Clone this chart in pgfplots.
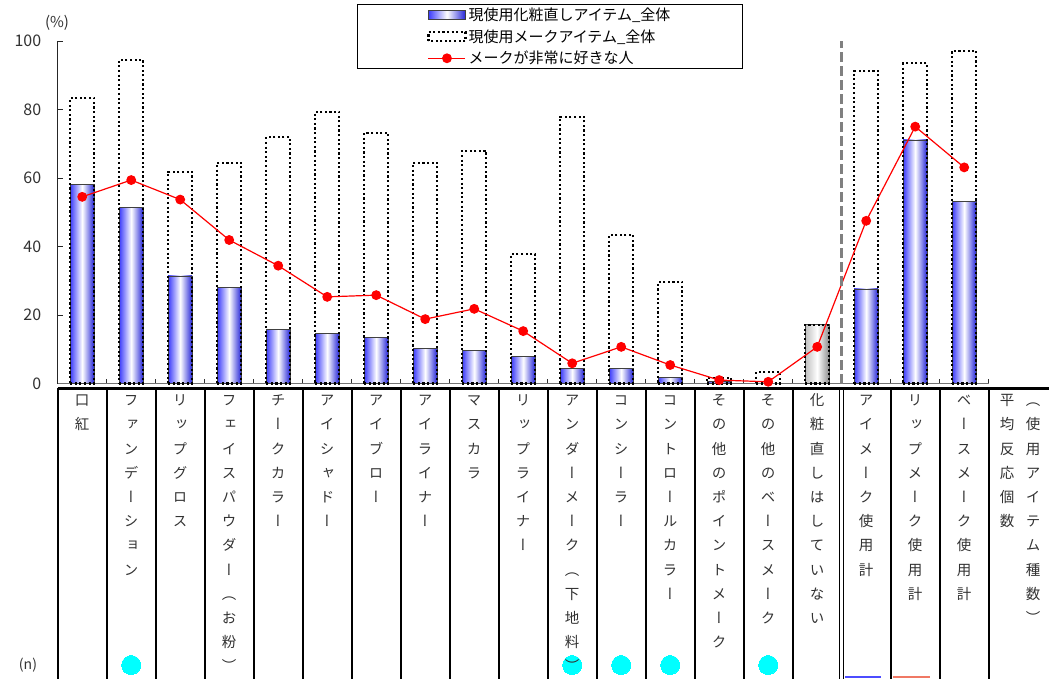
\documentclass[border=0pt]{standalone}
\usepackage{pgfplots}
\pgfplotsset{compat=1.18}
\usepackage{pgfplotstable}
\usepackage{fontspec}
\setmainfont{Noto Sans CJK JP}
\newfontfamily\vfont[RawFeature=+vert]{Noto Sans CJK JP}
\definecolor{barblueL}{RGB}{60,60,250}
\definecolor{barblueR}{RGB}{35,35,215}
\definecolor{dashgray}{RGB}{128,128,128}
\definecolor{txtgray}{RGB}{50,50,50}
\definecolor{salmon}{RGB}{240,120,100}
\definecolor{sigcyan}{RGB}{0,255,255}

\pgfplotsset{
  barlegend/.style={legend image code/.code={\draw[##1] (0pt,-4.5pt) rectangle (37pt,4.5pt);}},
  linelegend/.style={legend image code/.code={\draw[##1, mark repeat=2, mark phase=2] plot coordinates {(0pt,0pt) (18.5pt,0pt) (37pt,0pt)};}},
  bluebar/.style={ybar, bar width=24pt, bar shift=0pt, draw=black!75, line width=0.9pt,
    left color=barblueL, right color=barblueR, middle color=white},
}

% 化粧直しはしていない
\pgfplotstableread{
x y
16 17.1
}\graytab
% 現使用メークアイテム_全体
\pgfplotstableread{
x y
1 83.4
2 94.5
3 61.8
4 64.5
5 71.9
6 79.4
7 73.2
8 64.5
9 68.0
10 37.8
11 77.9
12 43.4
13 29.7
14 1.7
15 3.4
16 17.1
17 91.3
18 93.5
19 97.2
}\dottab
% メークが非常に好きな人
\pgfplotstableread{
x y
1 54.5
2 59.4
3 53.7
4 41.9
5 34.4
6 25.3
7 25.8
8 18.8
9 21.8
10 15.3
11 5.9
12 10.7
13 5.4
14 1.0
15 0.5
16 10.7
17 47.5
18 75.0
19 63.1
}\redtab

\newcommand{\vl}[2]{\node[anchor=north, align=center, inner sep=0pt,
  font=\vfont\fontsize{14.5}{24.2}\selectfont, text=txtgray] at (#1,393) {\rule{0pt}{12.5pt}#2};}

\begin{document}
\begin{tikzpicture}
\path[use as bounding box] (0pt,0pt) rectangle (1049pt,-678pt);
\begin{axis}[
  at={(57.7pt,-383.5pt)}, anchor=south west,
  scale only axis, width=931pt, height=342.5pt,
  xmin=0.5, xmax=19.5, ymin=0, ymax=100,
  axis lines*=left,
  clip=false,
  xtick={0.5,1.5,...,19.5}, xticklabels={},
  ytick={0,20,...,100},
  tick align=inside,
  major tick length=5pt,
  x axis line style={black!55, line width=1.5pt},
  y axis line style={black!85, line width=1pt},
  xtick style={black!80, line width=0.8pt},
  ytick style={black!85, line width=1pt},
  yticklabel style={font=\fontsize{16}{16}\selectfont, text=txtgray, xshift=-13pt},
  /pgf/number format/assume math mode=true,
  legend cell align=left,
  legend style={at={(axis description cs:0.3215,1.108)}, anchor=north west,
    draw=black, line width=0.8pt, font=\fontsize{15}{16}\selectfont,
    inner xsep=70pt, inner ysep=1.5pt, row sep=3.5pt,
    /tikz/every even column/.append style={column sep=7pt}},
]
% 現使用化粧直しアイテム_全体 (one bar per plot so each bar gets its own shading)
\addlegendimage{bluebar, barlegend}
\addlegendentry{現使用化粧直しアイテム\_全体}
\addplot[bluebar, forget plot] coordinates {(1,58.1)};
\addplot[bluebar, forget plot] coordinates {(2,51.3)};
\addplot[bluebar, forget plot] coordinates {(3,31.4)};
\addplot[bluebar, forget plot] coordinates {(4,28.1)};
\addplot[bluebar, forget plot] coordinates {(5,15.8)};
\addplot[bluebar, forget plot] coordinates {(6,14.7)};
\addplot[bluebar, forget plot] coordinates {(7,13.5)};
\addplot[bluebar, forget plot] coordinates {(8,10.2)};
\addplot[bluebar, forget plot] coordinates {(9,9.7)};
\addplot[bluebar, forget plot] coordinates {(10,8.0)};
\addplot[bluebar, forget plot] coordinates {(11,4.4)};
\addplot[bluebar, forget plot] coordinates {(12,4.4)};
\addplot[bluebar, forget plot] coordinates {(13,1.7)};
\addplot[bluebar, forget plot] coordinates {(14,0.5)};
\addplot[bluebar, forget plot] coordinates {(17,27.6)};
\addplot[bluebar, forget plot] coordinates {(18,71.1)};
\addplot[bluebar, forget plot] coordinates {(19,53.1)};
\addplot[ybar, bar width=24pt, bar shift=0pt, draw=black!75, line width=0.9pt,
  left color=black!25, right color=black!45, middle color=white, forget plot]
  table[x=x,y=y] {\graytab};
\addplot[ybar, bar width=24pt, bar shift=0pt, draw=black, line width=2.1pt,
  dash pattern=on 2.1pt off 2.5pt, fill=none, barlegend]
  table[x=x,y=y] {\dottab};
\addlegendentry{現使用メークアイテム\_全体}
\addplot[red, line width=1.2pt, mark=*, mark size=4.3pt, mark options={fill=red, draw=red}, linelegend]
  table[x=x,y=y] {\redtab};
\addlegendentry{メークが非常に好きな人}
% significance markers in the (n) row
\addplot[sigcyan, only marks, mark=*, mark size=9.5pt, mark options={fill=sigcyan, draw=sigcyan, line width=0pt}, forget plot]
  coordinates {(2,-82.2) (11,-82.2) (12,-82.2) (13,-82.2) (15,-82.2)};
\draw[dashgray, line width=2.5pt, dash pattern=on 10pt off 4pt] (axis cs:16.5,0) -- (axis cs:16.5,100);
\end{axis}
\begin{scope}[x=1pt,y=-1pt]
\node[font=\fontsize{15}{15}\selectfont, text=txtgray] at (57,23) {(\%)};
\node[font=\fontsize{14}{14}\selectfont, text=txtgray] at (28,665) {(n)};
\draw[line width=3pt] (57.7,388) -- (1049,388);
\foreach \k in {0,...,15,17,18,19} \draw[line width=1.8pt] ({57.7+49*\k},388) -- ({57.7+49*\k},680);
\draw[line width=1.4pt] (839.6,388) -- (839.6,680);
\draw[line width=1.4pt] (843.4,388) -- (843.4,680);
\draw[blue!70, line width=2pt] (845,677) -- (881,677);
\draw[salmon, line width=2pt] (893,677) -- (930,677);
\vl{82.2}{口\\紅}
\vl{131.2}{フ\\ァ\\ン\\デ\\ー\\シ\\ョ\\ン}
\vl{180.2}{リ\\ッ\\プ\\グ\\ロ\\ス}
\vl{229.2}{フ\\ェ\\イ\\ス\\パ\\ウ\\ダ\\ー\\（\\お\\粉\\）}
\vl{278.2}{チ\\ー\\ク\\カ\\ラ\\ー}
\vl{327.2}{ア\\イ\\シ\\ャ\\ド\\ー}
\vl{376.2}{ア\\イ\\ブ\\ロ\\ー}
\vl{425.2}{ア\\イ\\ラ\\イ\\ナ\\ー}
\vl{474.2}{マ\\ス\\カ\\ラ}
\vl{523.2}{リ\\ッ\\プ\\ラ\\イ\\ナ\\ー}
\vl{572.2}{ア\\ン\\ダ\\ー\\メ\\ー\\ク\\（\\下\\地\\料\\）}
\vl{621.2}{コ\\ン\\シ\\ー\\ラ\\ー}
\vl{670.2}{コ\\ン\\ト\\ロ\\ー\\ル\\カ\\ラ\\ー}
\vl{719.2}{そ\\の\\他\\の\\ポ\\イ\\ン\\ト\\メ\\ー\\ク}
\vl{768.2}{そ\\の\\他\\の\\ベ\\ー\\ス\\メ\\ー\\ク}
\vl{817.2}{化\\粧\\直\\し\\は\\し\\て\\い\\な\\い}
\vl{866.2}{ア\\イ\\メ\\ー\\ク\\使\\用\\計}
\vl{915.2}{リ\\ッ\\プ\\メ\\ー\\ク\\使\\用\\計}
\vl{964.2}{ベ\\ー\\ス\\メ\\ー\\ク\\使\\用\\計}
\vl{1007}{平\\均\\反\\応\\個\\数}
\vl{1033}{（\\使\\用\\ア\\イ\\テ\\ム\\種\\数\\）}
\end{scope}
\end{tikzpicture}
\end{document}
